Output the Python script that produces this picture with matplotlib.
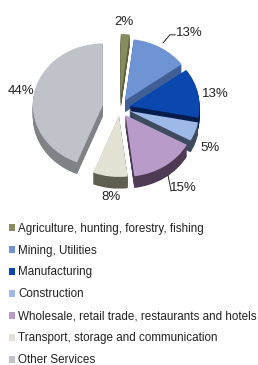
import matplotlib
matplotlib.use("Agg")
import matplotlib.pyplot as plt
import numpy as np

plt.rcParams["font.family"] = ["Liberation Sans", "DejaVu Sans"]

# data
sectors = ["Agriculture, hunting, forestry, fishing", "Mining, Utilities",
           "Manufacturing", "Construction",
           "Wholesale, retail trade, restaurants and hotels",
           "Transport, storage and communication", "Other Services"]
shares = [2, 13, 13, 5, 15, 8, 44]

top_colors = ["#878B5E", "#6E94D4", "#0A47AE", "#9DB9E8", "#B89BC9", "#E4E2D4", "#BFC3C9"]
side_colors = ["#5C5F3D", "#3F5F96", "#061C4C", "#3D4A60", "#4E3A55", "#605E50", "#7F8287"]
explode = [0.2, 0.14, 0.14, 0.14, 0.14, 0.12, 0.25]

fig = plt.figure(figsize=(2.58, 3.65), dpi=100)
ax = fig.add_axes([0, 1 - 210 / 365, 1, 210 / 365])

# fake 3D depth: stack darker copies of the pie below the top face
depth = 0.19
steps = 14
for i in range(steps, 0, -1):
    ax.pie(shares, colors=side_colors, explode=explode, startangle=90,
           counterclock=False, center=(0, -depth * i / steps),
           wedgeprops=dict(linewidth=0))
wedges, _ = ax.pie(shares, colors=top_colors, explode=explode, startangle=90,
                   counterclock=False, wedgeprops=dict(linewidth=0))

r_px = 70
cx, cy = 120, 108       # pie centre in pixels from the top-left of the axes
sy = 0.88 * r_px
ax.set_aspect("auto")
ax.set_xlim(-cx / r_px, (258 - cx) / r_px)
ax.set_ylim(-(210 - cy) / sy, cy / sy)
ax.axis("off")


def along(w, fx, fy):
    ang = np.deg2rad((w.theta1 + w.theta2) / 2)
    return fx * np.cos(ang), fy * np.sin(ang)


# label offsets relative to each wedge's middle direction
label_pos = [(0.91, 1.40), (1.94, 1.41), (1.39, 1.04), (1.37, 1.92),
             (1.60, 1.57), (1.03, 1.46), (1.44, 1.48)]
for w, v, (fx, fy) in zip(wedges, shares, label_pos):
    x, y = along(w, fx, fy)
    ax.text(x, y, f"{v}%", ha="center", va="center", fontsize=9.5, color="#222222")

# leader lines
for idx, pts in {1: [(1.21, 1.23), (1.40, 1.38), (1.55, 1.38)],
                 4: [(1.22, 1.32), (1.30, 1.63)]}.items():
    xy = [along(wedges[idx], fx, fy) for fx, fy in pts]
    ax.plot([p[0] for p in xy], [p[1] for p in xy], color="#222222", linewidth=0.7)

fig.legend(wedges, sectors, loc="upper left", bbox_to_anchor=(0.015, 1 - 218 / 365),
           frameon=False, fontsize=8.4, handlelength=0.55, handleheight=0.55,
           handletextpad=0.3, labelspacing=0.85, borderaxespad=0, labelcolor="#222222")

fig.savefig("out.png", dpi=100)
